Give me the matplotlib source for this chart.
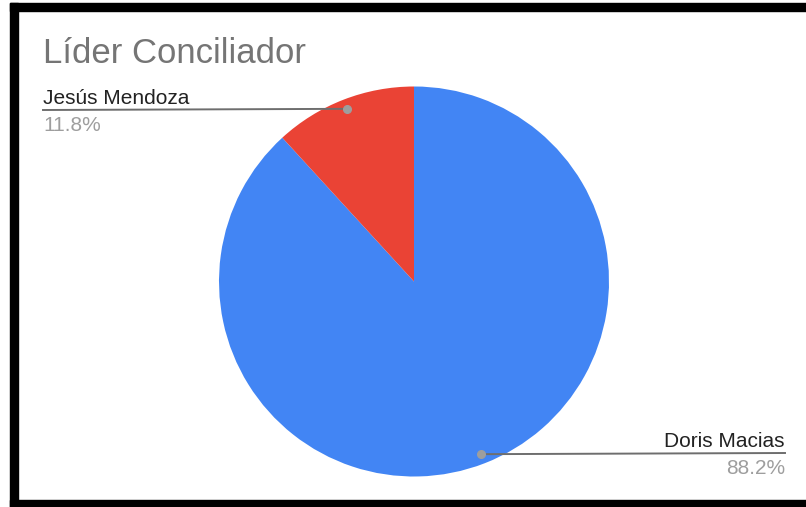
import numpy as np
import matplotlib
matplotlib.use("Agg")
import matplotlib.pyplot as plt
from matplotlib.patches import Rectangle

plt.rcParams['font.family'] = ['Liberation Sans', 'DejaVu Sans']

titulo = "Líder Conciliador"
nombres = ["Doris Macias", "Jesús Mendoza"]
valores = [88.2, 11.8]
colores = ["#4285F4", "#EA4335"]

W, H = 806, 507
fig = plt.figure(figsize=(W / 100, H / 100), dpi=100)
ax = fig.add_axes([0, 0, 1, 1])

# pie in pixel units, y measured from the bottom
cx, cy, R = 414, H - 281.5, 195
wedges, _ = ax.pie(valores, colors=colores, startangle=90, counterclock=False,
                   center=(cx, cy), radius=R, frame=True,
                   wedgeprops=dict(linewidth=0))
ax.set_xlim(0, W)
ax.set_ylim(0, H)
ax.set_aspect("equal")
ax.axis("off")

# frame around the chart
for x, y, w, h in [(10, 0, 8, H - 3), (10, H - 11, W - 10, 8), (10, 0, W - 10, 7)]:
    ax.add_patch(Rectangle((x, y), w, h, color="black", clip_on=False, zorder=5))

ax.text(43, H - 63, titulo, fontsize=25, color="#757575", va="baseline", ha="left")

# leader labels
lados = {"Doris Macias": ("right", 785, H - 453), "Jesús Mendoza": ("left", 43, H - 110)}
for w, nombre, val in zip(wedges, nombres, valores):
    ang = np.deg2rad((w.theta1 + w.theta2) / 2)
    px, py = cx + 0.95 * R * np.cos(ang), cy + 0.95 * R * np.sin(ang)
    ha, tx, ty = lados[nombre]
    ax.plot([tx, px], [ty, py], color="#6e6e6e", lw=1.4, zorder=3)
    ax.plot(px, py, "o", color="#9e9e9e", ms=5.5, zorder=4)
    ax.text(tx, ty + 6, nombre, fontsize=15, color="#222222", ha=ha, va="baseline")
    ax.text(tx, ty - 21, f"{val}%", fontsize=15, color="#9e9e9e", ha=ha, va="baseline")

fig.savefig("out.png", dpi=100, facecolor="white")
